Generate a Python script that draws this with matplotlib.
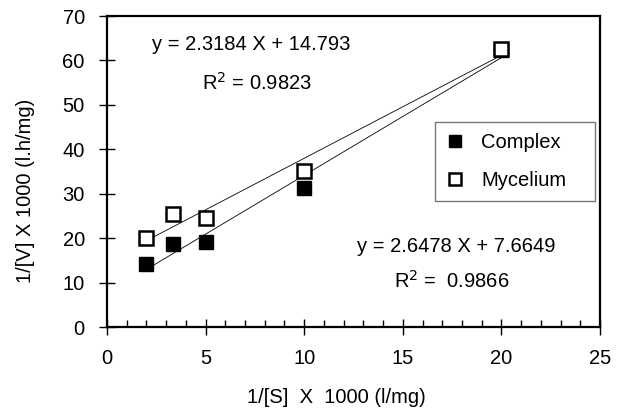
import matplotlib.pyplot as plt
import numpy as np

plt.rcParams['font.family'] = ['Liberation Sans', 'DejaVu Sans']

# data
s_inv = [2, 3.33, 5, 10, 20]
complex_v = [14.1, 18.7, 19.2, 31.2, 62.4]
mycelium_v = [20.0, 25.4, 24.6, 35.2, 62.6]

# trend line coefficients (as printed on the chart)
complex_fit = (2.6478, 7.6649)
mycelium_fit = (2.3184, 14.793)

fs = 14.5

fig = plt.figure(figsize=(6.17, 4.11), dpi=100, facecolor='white')
ax = fig.add_axes([107 / 617, 1 - 327 / 411, 493 / 617, 311 / 411])

xl = np.array([2, 20])
ax.plot(xl, complex_fit[0] * xl + complex_fit[1], color='black', lw=0.6, zorder=2)
ax.plot(xl, mycelium_fit[0] * xl + mycelium_fit[1], color='black', lw=0.6, zorder=2)

ax.plot(s_inv, complex_v, 's', ms=10, mfc='black', mec='black', ls='none',
        label='Complex', zorder=3)
ax.plot(s_inv, mycelium_v, 's', ms=10, mfc='white', mec='black', mew=1.8, ls='none',
        label='Mycelium', zorder=4)

ax.set_xlim(0, 25)
ax.set_ylim(0, 70)
ax.set_xticks(np.arange(0, 26, 5))
ax.set_xticks(np.arange(0, 26, 1), minor=True)
ax.set_yticks(np.arange(0, 71, 10))
ax.tick_params(axis='x', which='major', direction='inout', length=11, width=1, labelsize=fs, pad=10)
ax.tick_params(axis='x', which='minor', direction='in', length=5, width=1)
ax.tick_params(axis='y', which='major', direction='inout', length=12, width=1, labelsize=fs, pad=10)
for sp in ax.spines.values():
    sp.set_linewidth(1.6)

ax.set_xlabel('1/[S]  X  1000 (l/mg)', fontsize=fs)
ax.xaxis.set_label_coords(0.465, -0.195)
ax.set_ylabel('1/[V] X 1000 (l.h/mg)', fontsize=fs)
ax.yaxis.set_label_coords(-0.146, 0.437)

ax.text(7.3, 63.5, 'y = 2.3184 X + 14.793', fontsize=fs, ha='center', va='center')
ax.text(7.6, 55, 'R$^2$ = 0.9823', fontsize=fs, ha='center', va='center')
ax.text(17.7, 18.2, 'y = 2.6478 X + 7.6649', fontsize=fs, ha='center', va='center')
ax.text(17.5, 10.5, 'R$^2$ =  0.9866', fontsize=fs, ha='center', va='center')

leg = ax.legend(loc='upper left', bbox_to_anchor=(0.665, 0.405, 0.325, 0.254),
                mode='expand', fontsize=fs, frameon=True, fancybox=False,
                edgecolor='#555555', handletextpad=0.85, borderpad=0.55,
                labelspacing=0.95, handlelength=0.9, borderaxespad=0,
                markerscale=0.9)
leg.get_frame().set_linewidth(1.0)

fig.savefig('out.png', dpi=100)
